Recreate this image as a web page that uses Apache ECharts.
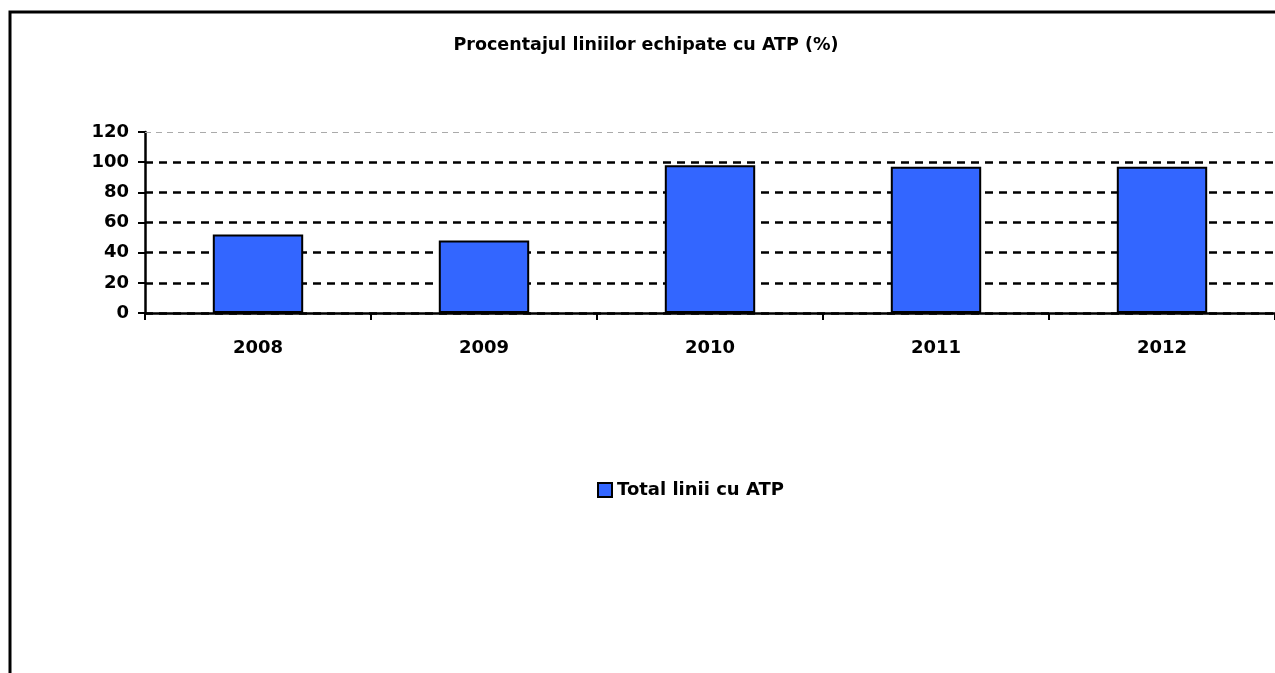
<!DOCTYPE html>
<html>
<head>
<meta charset="utf-8">
<script src="https://cdn.jsdelivr.net/npm/echarts@6/dist/echarts.min.js"></script>
<style>
  html, body { margin: 0; padding: 0; background: #fff; }
  #main { width: 1275px; height: 673px; }
</style>
</head>
<body>
<div id="main"></div>
<script>
// data
const years = ['2008', '2009', '2010', '2011', '2012'];
const totalLiniiAtp = [52, 48, 98, 97, 97];
const yTicks = [0, 20, 40, 60, 80, 100, 120];

// the source text is rather wide, DejaVu Sans is closer than Arial here
const FONT = '"DejaVu Sans", "Liberation Sans", Arial, sans-serif';

const chart = echarts.init(document.getElementById('main'));

const option = {
  backgroundColor: '#fff',
  animation: false,
  title: {
    text: 'Procentajul liniilor echipate cu ATP (%)',
    left: 641,
    textAlign: 'center',
    top: 31,
    textStyle: { fontFamily: FONT, fontSize: 17.5, fontWeight: 'bold', color: '#000' }
  },
  legend: {
    left: 597,
    top: 481,
    padding: 0,
    icon: 'rect',
    itemWidth: 14,
    itemHeight: 14,
    itemGap: 4,
    textStyle: { fontFamily: FONT, fontSize: 18, fontWeight: 'bold', color: '#000' },
    itemStyle: { borderColor: '#000', borderWidth: 2 }
  },
  grid: {
    left: 145,
    right: 0,
    top: 132,
    bottom: 360,
    containLabel: false
  },
  xAxis: {
    type: 'category',
    data: years,
    axisLine: { lineStyle: { color: '#000', width: 2.5 } },
    axisTick: { show: true, length: 7, lineStyle: { color: '#000', width: 2 } },
    axisLabel: { fontFamily: FONT, fontSize: 18, fontWeight: 'bold', color: '#000', margin: 26 },
    splitLine: { show: false }
  },
  yAxis: {
    type: 'value',
    min: yTicks[0],
    max: yTicks[yTicks.length - 1],
    interval: 20,
    axisLine: { show: true, lineStyle: { color: '#000', width: 2.5 } },
    axisTick: { show: true, length: 7, lineStyle: { color: '#000', width: 2 } },
    axisLabel: { fontFamily: FONT, fontSize: 18, fontWeight: 'bold', color: '#000', margin: 16 },
    splitLine: {
      show: true,
      lineStyle: {
        // last line (120) is drawn by the markLine below
        color: ['#000', '#000', '#000', '#000', '#000', '#000', 'rgba(0,0,0,0)'],
        width: 2.5,
        type: [8, 6]
      }
    }
  },
  series: [
    {
      name: 'Total linii cu ATP',
      type: 'bar',
      data: totalLiniiAtp,
      barWidth: '40%',
      itemStyle: { color: '#3366FF', borderColor: '#000', borderWidth: 2 },
      markLine: {
        silent: true,
        symbol: 'none',
        label: { show: false },
        lineStyle: { color: '#aaa', width: 1, type: [6, 5] },
        data: [{ yAxis: yTicks[yTicks.length - 1] }]
      }
    }
  ],
  graphic: [
    {
      type: 'rect',
      shape: { x: 10, y: 12, width: 1400, height: 800 },
      style: { fill: 'none', stroke: '#000', lineWidth: 3 },
      silent: true,
      z: 100
    }
  ]
};

chart.setOption(option);
</script>
</body>
</html>
